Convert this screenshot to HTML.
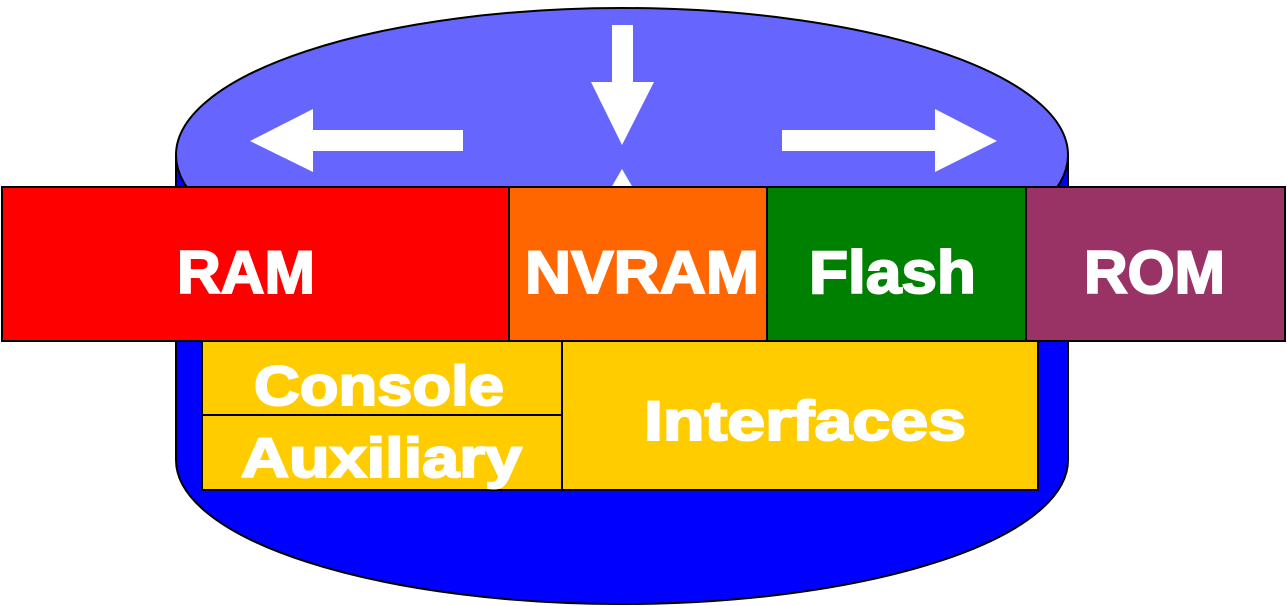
<!DOCTYPE html>
<html><head><meta charset="utf-8"><style>
html,body{margin:0;padding:0;background:#fff;}
svg{display:block;}
text{font-family:"Liberation Sans",Arial,sans-serif;font-weight:bold;fill:#fff;stroke:#fff;stroke-width:2;}
</style></head><body>
<svg width="1287" height="606" viewBox="0 0 1287 606" xmlns="http://www.w3.org/2000/svg">
<path d="M176,155 L176,460 A446,144 0 0 0 1068,460 L1068,155 Z" fill="#0000ff" stroke="#000" stroke-width="2"/>
<ellipse cx="622" cy="155" rx="446" ry="147" fill="#6666ff" stroke="#000" stroke-width="2"/>
<polygon points="250,141 313,109 313,130 463,130 463,151 313,151 313,172" fill="#fff"/>
<polygon points="997,141 935,109 935,130 782,130 782,151 935,151 935,172" fill="#fff"/>
<polygon points="612,25 633,25 633,82 654,82 622,145 591,82 612,82" fill="#fff"/>
<polygon points="622,169 640,200 604,200" fill="#fff"/>
<g stroke="#000" stroke-width="2">
<rect x="2" y="187" width="507" height="154" fill="#ff0000"/>
<rect x="509" y="187" width="258" height="154" fill="#ff6600"/>
<rect x="767" y="187" width="259" height="154" fill="#008000"/>
<rect x="1026" y="187" width="259" height="154" fill="#993366"/>
<rect x="202" y="341" width="360" height="74" fill="#ffcc00"/>
<rect x="202" y="415" width="360" height="75" fill="#ffcc00"/>
<rect x="562" y="341" width="476" height="149" fill="#ffcc00"/>
</g>
<g font-size="60">
<text x="177" y="293" textLength="138" lengthAdjust="spacingAndGlyphs">RAM</text>
<text x="525" y="293" textLength="234" lengthAdjust="spacingAndGlyphs">NVRAM</text>
<text x="809" y="293" textLength="167" lengthAdjust="spacingAndGlyphs">Flash</text>
<text x="1084" y="293" textLength="141" lengthAdjust="spacingAndGlyphs">ROM</text>
</g>
<g font-size="56">
<text x="254" y="405" textLength="250" lengthAdjust="spacingAndGlyphs">Console</text>
<text x="241" y="477" textLength="281" lengthAdjust="spacingAndGlyphs">Auxiliary</text>
<text x="644" y="440" textLength="322" lengthAdjust="spacingAndGlyphs">Interfaces</text>
</g>
</svg>
</body></html>
